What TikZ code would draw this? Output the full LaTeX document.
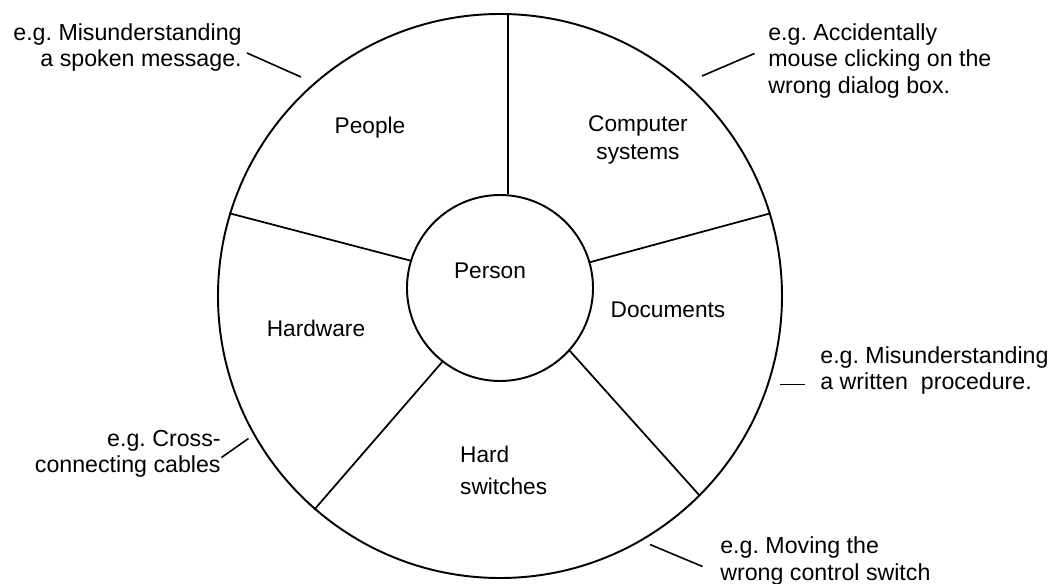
\documentclass[tikz,border=0pt]{standalone}
\usepackage{fontspec}
\setmainfont{Liberation Sans}
\usepackage{tikz}
\usetikzlibrary{calc, positioning}
\frenchspacing
\tikzset{
    ring/.style={draw, circle, line width=1.1pt, inner sep=0pt},
    spoke/.style={line width=1pt},
    callout/.style={line width=0.9pt},
    example/.style={inner sep=0pt, font=\fontsize{13.2}{14.8}\selectfont},
}

\begin{document}
\begin{tikzpicture}[every node/.style={font=\fontsize{12.9}{15.9}\selectfont}]
    \useasboundingbox (-10,-5.74) rectangle (11.04,5.92);

    % Rim and hub
    \node[ring, minimum size=11.28cm] (wheel) at (0,0) {};
    \node[ring, minimum size=3.72cm] (person) at (0,0.16) {};
    \node (persontxt) at (-0.2,0.5) {Person};

    % Spokes from hub to rim
    \draw[spoke] (person.85) -- (person.85 |- wheel.north);
    \draw[spoke] (person.16) -- (wheel.17);
    \draw[spoke] (person.163) -- (wheel.163);
    \draw[spoke] (person.232) -- (wheel.229);
    \draw[spoke] (person.318) -- (wheel.315);

    % Segment names
    \node (people) at (-2.6,3.36) {People};
    \node[align=center] (computers) at (2.76,3.12) {Computer\\systems};
    \node (documents) at (3.36,-0.28) {Documents};
    \node (hardware) at (-3.68,-0.64) {Hardware};
    \node[align=left, anchor=west] (switches) at (-0.92,-3.49) {Hard\\[2pt]switches};

    % Examples round the outside
    \node[example, align=right, anchor=east] (spoken) at (-5.16,4.97) {e.g. Misunderstanding\\a spoken message.};
    \node[example, align=left, anchor=west] (clicking) at (5.36,4.70) {e.g. Accidentally\\mouse clicking on the\\wrong dialog box.};
    \node[example, align=left, anchor=west] (written) at (6.4,-1.49) {e.g. Misunderstanding\\a written\ \ procedure.};
    \node[example, align=right, anchor=east] (cables) at (-5.58,-3.15) {e.g. Cross-\\connecting cables};
    \node[example, align=left, anchor=west] (moving) at (4.4,-5.30) {e.g. Moving the\\wrong control switch};

    % Pointer lines
    \coordinate (spokenA) at (-5.06,4.86);
    \coordinate (spokenB) at (-3.98,4.38);
    \coordinate (clickingA) at (5.09,4.85);
    \coordinate (clickingB) at (4.04,4.40);
    \coordinate (writtenA) at (6.1,-1.77);
    \coordinate (writtenB) at (5.6,-1.77);
    \coordinate (cablesA) at (-5.57,-3.23);
    \coordinate (cablesB) at (-5.03,-2.85);
    \coordinate (movingA) at (4.05,-5.41);
    \coordinate (movingB) at (3.0,-4.97);
    \draw[callout] (spokenA) -- (spokenB);
    \draw[callout] (clickingA) -- (clickingB);
    \draw[callout] (writtenA) -- (writtenB);
    \draw[callout] (cablesA) -- (cablesB);
    \draw[callout] (movingA) -- (movingB);
\end{tikzpicture}
\end{document}
